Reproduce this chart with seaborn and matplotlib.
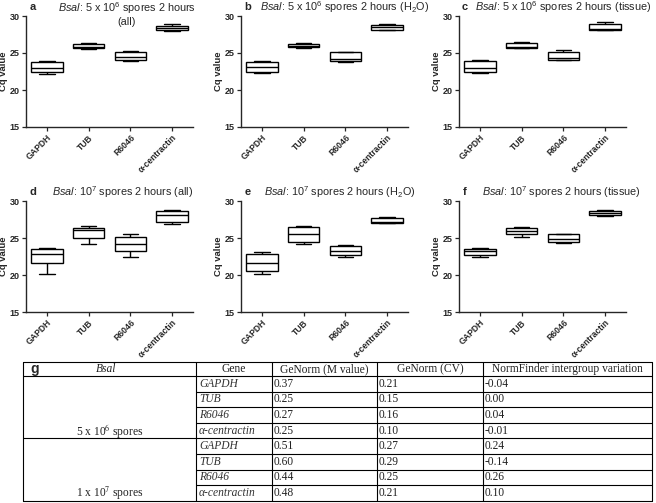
import numpy as np
import matplotlib.pyplot as plt
import pandas as pd
import seaborn as sns

genes = ['GAPDH', 'TUB', 'R6046', 'α-centractin']

# five-number summaries: min, q1, median, q3, max
a_stats = [[22.2, 22.4, 23.0, 23.8, 23.9], [25.5, 25.7, 25.85, 26.2, 26.35],
           [23.9, 24.05, 24.45, 25.1, 25.25], [28.0, 28.15, 28.33, 28.65, 28.95]]
b_stats = [[22.35, 22.4, 23.15, 23.8, 23.9], [25.7, 25.8, 25.9, 26.2, 26.3],
           [23.75, 23.9, 24.25, 25.1, 25.2], [28.1, 28.12, 28.45, 28.75, 28.95]]
c_stats = [[22.25, 22.5, 22.95, 23.9, 24.05], [25.7, 25.72, 25.85, 26.3, 26.45],
           [24.0, 24.1, 24.35, 25.2, 25.4], [28.12, 28.15, 28.3, 28.9, 29.15]]
d_stats = [[20.1, 21.6, 22.9, 23.5, 23.65], [24.2, 25.0, 26.05, 26.35, 26.6],
           [22.4, 23.25, 24.2, 25.15, 25.6], [26.95, 27.15, 28.1, 28.6, 28.85]]
e_stats = [[20.1, 20.5, 21.6, 22.85, 23.1], [24.2, 24.4, 25.5, 26.5, 26.6],
           [22.5, 22.65, 23.3, 23.95, 24.1], [27.0, 27.03, 27.2, 27.65, 27.85]]
f_stats = [[22.4, 22.7, 23.2, 23.5, 23.65], [25.2, 25.5, 25.9, 26.35, 26.55],
           [24.28, 24.4, 24.8, 25.5, 25.55], [28.0, 28.1, 28.35, 28.7, 28.85]]

panel_titles = [
    ('a', r'$\it{Bsal}$: 5 x 10$^6$ spores 2 hours' + '\n(all)'),
    ('b', r'$\it{Bsal}$: 5 x 10$^6$ spores 2 hours (H$_2$O)'),
    ('c', r'$\it{Bsal}$: 5 x 10$^6$ spores 2 hours (tissue)'),
    ('d', r'$\it{Bsal}$: 10$^7$ spores 2 hours (all)'),
    ('e', r'$\it{Bsal}$: 10$^7$ spores 2 hours (H$_2$O)'),
    ('f', r'$\it{Bsal}$: 10$^7$ spores 2 hours (tissue)'),
]

# table g
tab_header = ['Gene', 'GeNorm (M value)', 'GeNorm (CV)', 'NormFinder intergroup variation']
tab_groups = ['5 x 10$^6$ spores', '1 x 10$^7$ spores']
tab_genes = ['GAPDH', 'TUB', 'R6046', 'α-centractin']
genorm_m = [[0.37, 0.25, 0.27, 0.25], [0.51, 0.60, 0.44, 0.48]]
genorm_cv = [[0.21, 0.15, 0.16, 0.10], [0.27, 0.29, 0.25, 0.21]]
normfinder = [[-0.04, 0.00, 0.04, -0.01], [0.24, -0.14, 0.26, 0.10]]

sns.set_style('ticks')
plt.rcParams['font.family'] = ['Liberation Sans', 'DejaVu Sans']
plt.rcParams['mathtext.fontset'] = 'custom'
plt.rcParams['mathtext.rm'] = 'Liberation Sans'
plt.rcParams['mathtext.it'] = 'Liberation Sans:italic'
plt.rcParams['mathtext.bf'] = 'Liberation Sans:bold'

W, H = 656, 503
fig = plt.figure(figsize=(W / 100, H / 100), dpi=100)

all_stats = [a_stats, b_stats, c_stats, d_stats, e_stats, f_stats]
x_left = [26, 241, 459]
y_top = [16, 201]
title_x = [[127, 345, 563], [123, 340, 561]]
letter_x = [33, 248, 465]
title_y = [7, 192]

for i, stats in enumerate(all_stats):
    r, c = divmod(i, 3)
    ax = fig.add_axes([x_left[c] / W, 1 - (y_top[r] + 111) / H, 167 / W, 111 / H])
    df = pd.DataFrame({'gene': np.repeat(genes, 5),
                       'cq': np.concatenate(stats)})
    sns.boxplot(data=df, x='gene', y='cq', ax=ax, order=genes, whis=(0, 100),
                color='white', linecolor='black', linewidth=1.0, width=0.75,
                saturation=1, showfliers=False)
    ax.set_ylim(15, 30)
    ax.set_xlim(-0.5, 3.5)
    ax.set_yticks([15, 20, 25, 30])
    ax.set_yticklabels(['15', '20', '25', '30'], fontsize=6.5, fontweight='bold')
    ax.set_xticks(range(4))
    ax.set_xticklabels(genes, rotation=45, ha='right', rotation_mode='anchor',
                       fontsize=6.2, fontweight='bold')
    ax.set_xlabel('')
    ax.set_ylabel('Cq value', fontsize=6.8, fontweight='bold', labelpad=1)
    ax.tick_params(length=3, width=0.9, pad=1.5)
    for s in ['left', 'bottom']:
        ax.spines[s].set_linewidth(1.0)
    sns.despine(ax=ax)
    letter, title = panel_titles[i]
    if r == 0 and c == 0:
        fig.text(title_x[r][c] / W, 1 - 13.5 / H, title, ha='center', va='center',
                 fontsize=7.8, linespacing=1.05)
    else:
        fig.text(title_x[r][c] / W, 1 - title_y[r] / H, title,
                 ha='center', va='center', fontsize=7.8)
    fig.text(letter_x[c] / W, 1 - title_y[r] / H, letter, ha='center', va='center',
             fontsize=8, fontweight='bold')

# table g drawn in pixel coordinates
tx = fig.add_axes([0, 0, 1, 1], facecolor='none')
tx.set_xlim(0, W)
tx.set_ylim(H, 0)
tx.axis('off')

cols = [23, 196, 272, 377, 483, 652]
top, hdr_bot, row_h = 362, 376, 15.6
bottom = hdr_bot + 8 * row_h
lw = 0.8
serif = ['Liberation Serif', 'DejaVu Serif']
fs = 8.3

tx.plot([cols[0], cols[-1]], [top, top], color='black', lw=lw)
tx.plot([cols[0], cols[-1]], [hdr_bot, hdr_bot], color='black', lw=lw)
tx.plot([cols[0], cols[-1]], [bottom, bottom], color='black', lw=lw)
for xc in cols:
    tx.plot([xc, xc], [top, bottom], color='black', lw=lw)
for k in range(1, 8):
    yy = hdr_bot + k * row_h
    x0 = cols[0] if k == 4 else cols[1]
    tx.plot([x0, cols[-1]], [yy, yy], color='black', lw=lw)

tx.text(35, (top + hdr_bot) / 2, 'g', ha='center', va='center', fontsize=10,
        fontweight='bold')
tx.text((cols[0] + cols[1]) / 2 - 3, (top + hdr_bot) / 2, 'Bsal', ha='center',
        va='center', fontsize=fs, family=serif, style='italic', color='#222')
for j, h in enumerate(tab_header):
    tx.text((cols[j + 1] + cols[j + 2]) / 2, (top + hdr_bot) / 2, h, ha='center',
            va='center', fontsize=fs, family=serif, color='#222')

for g in range(2):
    for k in range(4):
        yc = hdr_bot + (g * 4 + k + 0.5) * row_h
        tx.text(cols[1] + 3, yc, tab_genes[k], ha='left', va='center', fontsize=fs,
                family=serif, style='italic', color='#333')
        tx.text(cols[2] + 2, yc, f'{genorm_m[g][k]:.2f}', ha='left', va='center',
                fontsize=fs, family=serif, color='#222')
        tx.text(cols[3] + 2, yc, f'{genorm_cv[g][k]:.2f}', ha='left', va='center',
                fontsize=fs, family=serif, color='#222')
        tx.text(cols[4] + 2, yc, f'{normfinder[g][k]:.2f}', ha='left', va='center',
                fontsize=fs, family=serif, color='#222')
    yc = hdr_bot + (g * 4 + 3.5) * row_h
    tx.text((cols[0] + cols[1]) / 2, yc, tab_groups[g], ha='center', va='center',
            fontsize=fs, family=serif, color='#222', math_fontfamily='stix')

fig.savefig('out.png', dpi=100)
